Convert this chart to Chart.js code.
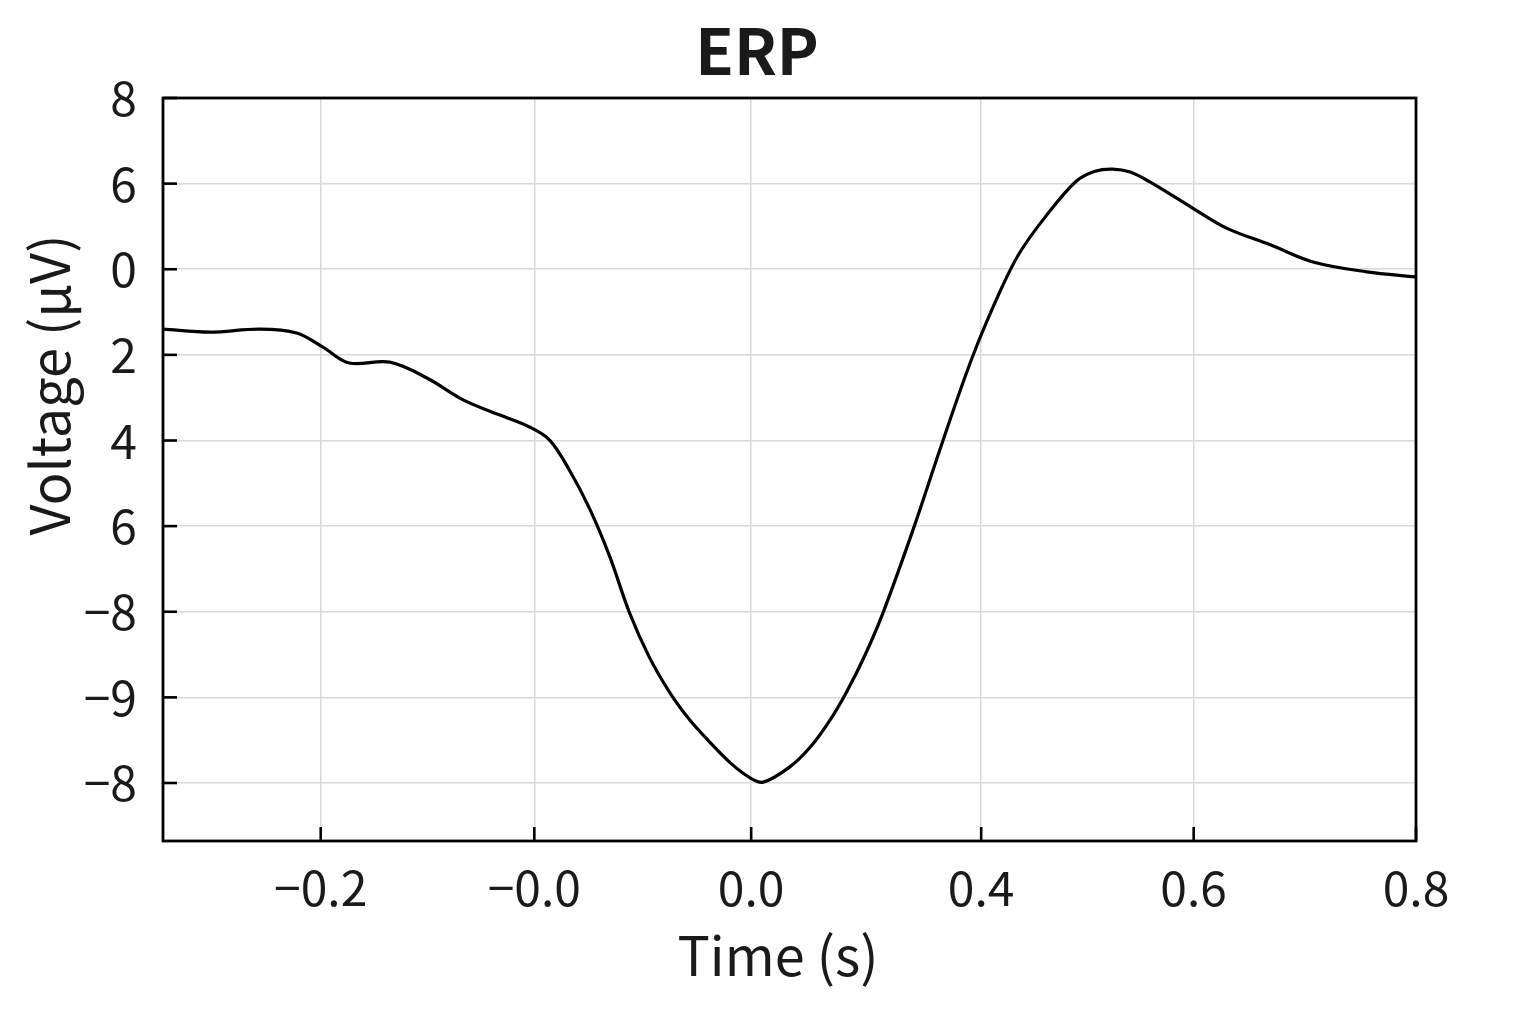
<!DOCTYPE html>
<html>
<head>
<meta charset="utf-8">
<script src="https://cdn.jsdelivr.net/npm/chart.js@4/dist/chart.umd.min.js"></script>
<style>
  html, body { margin: 0; padding: 0; background: #ffffff; }
  #wrap { width: 1536px; height: 1024px; position: relative; }
</style>
</head>
<body>
<div id="wrap"><canvas id="c"></canvas></div>
<script>
// ---- Data ----
const chartTitle = 'ERP';
const xAxisTitle = 'Time (s)';
const yAxisTitle = 'Voltage (\u00b5V)';

const times = [-0.344, -0.301, -0.256, -0.222, -0.198, -0.174, -0.137, -0.103, -0.070, -0.037,
  -0.009, 0.009, 0.027, 0.046, 0.064, 0.082, 0.100, 0.119, 0.137, 0.155,
  0.174, 0.192, 0.204, 0.228, 0.247, 0.265, 0.280, 0.297, 0.313, 0.341, 0.368,
  0.395, 0.420, 0.438, 0.463, 0.490, 0.507, 0.523, 0.539, 0.557, 0.596, 0.627, 0.667,
  0.706, 0.755, 0.800];
const voltages = [2.60, 2.53, 2.60, 2.51, 2.18, 1.81, 1.83, 1.46, 0.95, 0.60,
  0.31, 0.01, -0.69, -1.62, -2.72, -4.03, -5.06, -5.90, -6.53, -7.04,
  -7.53, -7.88, -7.98, -7.63, -7.16, -6.53, -5.88, -5.01, -4.05, -2.07, -0.01,
  1.95, 3.47, 4.38, 5.27, 6.06, 6.29, 6.34, 6.27, 6.04, 5.43, 4.96, 4.57,
  4.17, 3.94, 3.82];

const xTickValues = [-0.2, -0.005, 0.193, 0.403, 0.597, 0.8];
const xTickLabels = ['\u22120.2', '\u22120.0', '0.0', '0.4', '0.6', '0.8'];
const yTickValues = [8, 6, 4, 2, 0, -2, -4, -6, -8];
const yTickLabels = ['8', '6', '0', '2', '4', '6', '\u22128', '\u22129', '\u22128'];
const xMin = -0.344, xMax = 0.8;
const yMin = -9.355, yMax = 8;

// ---- Styles ----
const FONT = "'Noto Sans CJK JP', 'Noto Sans', sans-serif";
const TEXT = '#1a1a1a';
Chart.defaults.font.family = FONT;
Chart.defaults.color = TEXT;

const points = times.map((t, i) => ({ x: t, y: voltages[i] }));

const framePlugin = {
  id: 'frame',
  afterDraw(chart) {
    const ctx = chart.ctx;
    const a = chart.chartArea;
    const xs = chart.scales.x, ys = chart.scales.y;
    ctx.save();
    // inward ticks
    ctx.strokeStyle = '#000';
    ctx.lineWidth = 2.6;
    ctx.lineCap = 'butt';
    const TL = 14;
    ys.ticks.forEach(t => {
      const py = ys.getPixelForValue(t.value);
      ctx.beginPath(); ctx.moveTo(a.left, py); ctx.lineTo(a.left + TL, py); ctx.stroke();
    });
    xs.ticks.forEach(t => {
      const px = xs.getPixelForValue(t.value);
      ctx.beginPath(); ctx.moveTo(px, a.bottom); ctx.lineTo(px, a.bottom - TL); ctx.stroke();
    });
    // frame
    ctx.lineWidth = 2.8;
    ctx.strokeRect(a.left, a.top, a.right - a.left, a.bottom - a.top);
    // titles
    ctx.fillStyle = TEXT;
    ctx.textAlign = 'center';
    ctx.textBaseline = 'alphabetic';
    ctx.font = 'bold 63px ' + FONT;
    ctx.fillText(chartTitle, 757, 75);
    ctx.font = '54px ' + FONT;
    ctx.fillText(xAxisTitle, 778, 976);
    ctx.translate(70, 385);
    ctx.rotate(-Math.PI / 2);
    ctx.fillText(yAxisTitle, 0, 0);
    ctx.restore();
  }
};

new Chart(document.getElementById('c'), {
  type: 'line',
  data: {
    datasets: [{
      data: points,
      borderColor: '#000000',
      borderWidth: 3.2,
      pointRadius: 0,
      fill: false,
      tension: 0.35
    }]
  },
  options: {
    responsive: true,
    maintainAspectRatio: false,
    animation: false,
    layout: { padding: { left: 0, top: 98, right: 120, bottom: 0 } },
    plugins: { legend: { display: false }, title: { display: false }, tooltip: { enabled: false } },
    scales: {
      x: {
        type: 'linear',
        min: xMin, max: xMax,
        afterBuildTicks: s => { s.ticks = xTickValues.map(v => ({ value: v })); },
        afterFit: s => { s.height = 183; s.paddingLeft = 0; s.paddingRight = 0; },
        ticks: {
          autoSkip: false, maxRotation: 0, minRotation: 0,
          padding: 18,
          color: TEXT,
          font: { size: 48 },
          callback: (v, i) => xTickLabels[i]
        },
        grid: { color: '#d9d9d9', lineWidth: 1.5, drawTicks: false },
        border: { display: false }
      },
      y: {
        type: 'linear',
        min: yMin, max: yMax,
        afterBuildTicks: s => { s.ticks = yTickValues.map(v => ({ value: v })); },
        afterFit: s => { s.width = 163; s.paddingTop = 0; s.paddingBottom = 0; },
        ticks: {
          autoSkip: false,
          padding: 26,
          color: TEXT,
          font: { size: 48 },
          callback: (v, i) => yTickLabels[i]
        },
        grid: { color: '#d9d9d9', lineWidth: 1.5, drawTicks: false },
        border: { display: false }
      }
    }
  },
  plugins: [framePlugin]
});
</script>
</body>
</html>
